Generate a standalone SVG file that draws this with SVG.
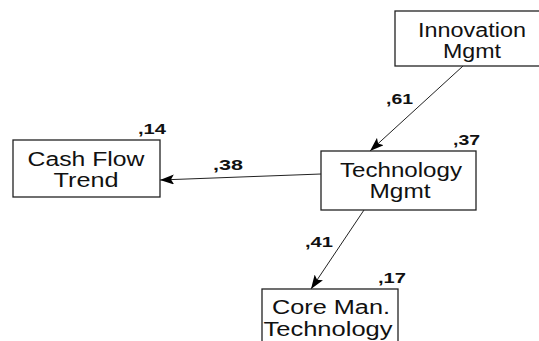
<svg xmlns="http://www.w3.org/2000/svg" width="539" height="341" viewBox="0 0 539 341">
<defs>
<style>
.box{fill:#fff;stroke:#222;stroke-width:1.3}
.t{font-family:"Liberation Sans",Arial,sans-serif;font-size:19.5px;fill:#111;text-anchor:middle}
.c{font-family:"Liberation Sans",Arial,sans-serif;font-size:14px;font-weight:bold;fill:#111}
.e{stroke:#222;stroke-width:1;fill:none;marker-end:url(#ah)}
</style>
<marker id="ah" viewBox="0 0 14 10" refX="14" refY="5" markerWidth="14" markerHeight="10" markerUnits="userSpaceOnUse" orient="auto">
<path d="M0,0 L14,5 L0,10 L3,5 Z" fill="#000"/>
</marker>
</defs>
<rect width="539" height="341" fill="#fff"/>
<g id="connectors">
<line class="e" x1="463" y1="66" x2="370" y2="151"/>
<line class="e" x1="321" y1="174" x2="160" y2="180"/>
<line class="e" x1="364" y1="210" x2="311" y2="289"/>
</g>
<g id="innovation">
<rect class="box" x="395" y="11" width="160" height="55"/>
<text class="t" x="472" y="37" textLength="108" lengthAdjust="spacingAndGlyphs">Innovation</text>
<text class="t" x="472" y="58" textLength="58" lengthAdjust="spacingAndGlyphs">Mgmt</text>
</g>
<g id="cashflow">
<rect class="box" x="13" y="140" width="147" height="57"/>
<text class="t" x="86" y="166" textLength="117" lengthAdjust="spacingAndGlyphs">Cash Flow</text>
<text class="t" x="86" y="187" textLength="65" lengthAdjust="spacingAndGlyphs">Trend</text>
<text class="c" x="138" y="134" textLength="28" lengthAdjust="spacingAndGlyphs">,14</text>
</g>
<g id="technology">
<rect class="box" x="321" y="151" width="155" height="59"/>
<text class="t" x="401" y="177" textLength="122" lengthAdjust="spacingAndGlyphs">Technology</text>
<text class="t" x="400" y="198" textLength="61" lengthAdjust="spacingAndGlyphs">Mgmt</text>
<text class="c" x="453" y="145" textLength="27" lengthAdjust="spacingAndGlyphs">,37</text>
</g>
<g id="coreman">
<rect class="box" x="262" y="289" width="136" height="60"/>
<text class="t" x="331" y="314" textLength="118" lengthAdjust="spacingAndGlyphs">Core Man.</text>
<text class="t" x="328" y="336" textLength="129" lengthAdjust="spacingAndGlyphs">Technology</text>
<text class="c" x="378" y="283" textLength="28" lengthAdjust="spacingAndGlyphs">,17</text>
</g>
<g id="labels">
<text class="c" x="386" y="104" textLength="27" lengthAdjust="spacingAndGlyphs">,61</text>
<text class="c" x="213" y="170" textLength="30" lengthAdjust="spacingAndGlyphs">,38</text>
<text class="c" x="305" y="247" textLength="28" lengthAdjust="spacingAndGlyphs">,41</text>
</g>
</svg>
